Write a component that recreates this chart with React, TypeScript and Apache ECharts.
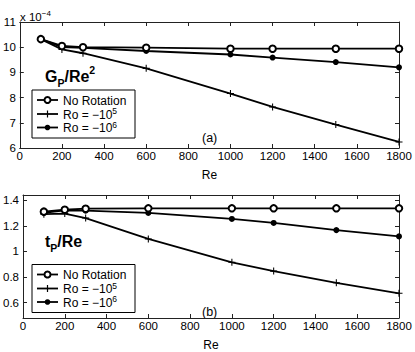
import React, { useEffect, useRef } from "react";
import * as echarts from "echarts";

const reValues = [100, 200, 300, 600, 1000, 1200, 1500, 1800];
const xTicks = [0, 200, 400, 600, 800, 1000, 1200, 1400, 1600, 1800];

// (a) G_P / Re^2, in units of 1e-4
const gNoRotation = [10.32, 10.05, 10.0, 9.98, 9.94, 9.94, 9.94, 9.94];
const gRo5 = [10.32, 9.91, 9.76, 9.16, 8.16, 7.63, 6.93, 6.24];
const gRo6 = [10.32, 10.0, 9.97, 9.85, 9.71, 9.59, 9.41, 9.2];

// (b) t_P / Re
const tNoRotation = [1.31, 1.325, 1.333, 1.336, 1.336, 1.336, 1.336, 1.336];
const tRo5 = [1.29, 1.295, 1.26, 1.097, 0.915, 0.846, 0.755, 0.673];
const tRo6 = [1.3, 1.32, 1.318, 1.3, 1.253, 1.222, 1.166, 1.117];

const topYTicks = [6, 7, 8, 9, 10, 11];
const bottomYTicks = [0.6, 0.8, 1, 1.2, 1.4];

const seriesNames = ["No Rotation", "Ro = −10^5", "Ro = −10^6"];

const FONT = "'Liberation Sans', Arial, Helvetica, sans-serif";
const AXIS_COLOR = "#222";
const PLUS_PATH =
  "path://M-0.15,-1H0.15V-0.15H1V0.15H0.15V1H-0.15V0.15H-1V-0.15H-0.15Z";

const pairs = (ys: number[]) => reValues.map((x, i) => [x, ys[i]]);

function xAxisPair(gridIndex: number) {
  const common = {
    gridIndex,
    type: "value",
    min: 0,
    max: 1800,
    interval: 200,
    splitLine: { show: false },
    axisLine: { show: true, onZero: false, lineStyle: { color: AXIS_COLOR, width: 1 } },
    axisTick: { show: true, inside: true, length: 4, lineStyle: { color: AXIS_COLOR } },
  };
  return [
    {
      ...common,
      position: "bottom",
      name: "Re",
      nameLocation: "middle",
      nameGap: 21,
      nameTextStyle: { color: "#000", fontSize: 12, fontFamily: FONT },
      axisLabel: {
        show: true,
        color: "#000",
        fontSize: 11.5,
        fontFamily: FONT,
        margin: 2,
        customValues: xTicks,
        formatter: (v: number) => String(v),
      },
    },
    { ...common, position: "top", axisLabel: { show: false } },
  ];
}

function yAxisPair(gridIndex: number, min: number, max: number, ticks: number[]) {
  const common = {
    gridIndex,
    type: "value",
    min,
    max,
    splitLine: { show: false },
    axisLine: { show: true, onZero: false, lineStyle: { color: AXIS_COLOR, width: 1 } },
    axisTick: {
      show: true,
      inside: true,
      length: 4,
      lineStyle: { color: AXIS_COLOR },
      customValues: ticks,
    },
  };
  return [
    {
      ...common,
      position: "left",
      axisLabel: {
        show: true,
        color: "#000",
        fontSize: 11.5,
        fontFamily: FONT,
        margin: 4,
        customValues: ticks,
        formatter: (v: number) => String(Math.round(v * 10) / 10),
      },
    },
    { ...common, position: "right", axisLabel: { show: false } },
  ];
}

function seriesFor(xi: number, yi: number, noRot: number[], ro5: number[], ro6: number[]) {
  const line = { color: "#000", width: 1.8 };
  return [
    {
      name: seriesNames[1],
      type: "line",
      xAxisIndex: xi,
      yAxisIndex: yi,
      data: pairs(ro5),
      symbol: PLUS_PATH,
      symbolSize: 7,
      itemStyle: { color: "#000" },
      lineStyle: line,
      z: 2,
    },
    {
      name: seriesNames[2],
      type: "line",
      xAxisIndex: xi,
      yAxisIndex: yi,
      data: pairs(ro6),
      symbol: "circle",
      symbolSize: 6,
      itemStyle: { color: "#000" },
      lineStyle: line,
      z: 3,
    },
    {
      name: seriesNames[0],
      type: "line",
      xAxisIndex: xi,
      yAxisIndex: yi,
      data: pairs(noRot),
      symbol: "circle",
      symbolSize: 6.5,
      itemStyle: { color: "#fff", borderColor: "#000", borderWidth: 2 },
      lineStyle: line,
      z: 4,
    },
  ];
}

function legendGraphics(top: number) {
  const left = 32;
  const rows = [top + 10, top + 24, top + 37.5];
  const x1 = 37;
  const x2 = 58;
  const mx = 47.5;
  const els: any[] = [
    {
      type: "rect",
      shape: { x: left, y: top, width: 103, height: 48 },
      style: { fill: "#fff", stroke: "#000", lineWidth: 1 },
      z: 10,
    },
  ];
  rows.forEach((y, i) => {
    els.push({
      type: "line",
      shape: { x1, y1: y, x2, y2: y },
      style: { stroke: "#000", lineWidth: 1.8 },
      z: 11,
    });
    if (i === 0) {
      els.push({
        type: "circle",
        shape: { cx: mx, cy: y, r: 3 },
        style: { fill: "#fff", stroke: "#000", lineWidth: 2 },
        z: 12,
      });
    } else if (i === 1) {
      els.push({
        type: "line",
        shape: { x1: mx, y1: y - 3.5, x2: mx, y2: y + 3.5 },
        style: { stroke: "#000", lineWidth: 1.2 },
        z: 12,
      });
    } else {
      els.push({
        type: "circle",
        shape: { cx: mx, cy: y, r: 2.8 },
        style: { fill: "#000" },
        z: 12,
      });
    }
    const label =
      i === 0
        ? "{t|No Rotation}"
        : i === 1
        ? "{t|Ro = −10}{s|5}"
        : "{t|Ro = −10}{s|6}";
    els.push({
      type: "text",
      x: 63,
      y: y + 0.5,
      z: 12,
      style: {
        text: label,
        verticalAlign: "middle",
        align: "left",
        fill: "#000",
        rich: {
          t: { fontSize: 12, fontFamily: FONT, lineHeight: 16, fill: "#000" },
          s: { fontSize: 8.5, fontFamily: FONT, lineHeight: 10, verticalAlign: "top", fill: "#000" },
        },
      },
    });
  });
  return els;
}

export default function App() {
  const ref = useRef<HTMLDivElement>(null);

  useEffect(() => {
    document.body.style.margin = "0";
    if (!ref.current) return;
    const chart = echarts.init(ref.current, null, { renderer: "svg" });

    const graphic: any[] = [
      // x 10^-4
      {
        type: "text",
        x: 20,
        y: 9,
        style: {
          text: "{t|x 10}{s|−4}",
          fill: "#000",
          rich: {
            t: { fontSize: 11.5, fontFamily: FONT, lineHeight: 16, fill: "#000" },
            s: { fontSize: 8, fontFamily: FONT, lineHeight: 9, verticalAlign: "top", fill: "#000" },
          },
        },
      },
      // G_P/Re^2
      {
        type: "text",
        x: 45,
        y: 64,
        style: {
          text: "{m|G}{b|P}{m|/Re}{p|2}",
          fill: "#000",
          rich: {
            m: { fontSize: 16, fontWeight: "bold", fontFamily: FONT, lineHeight: 24, fill: "#000" },
            b: { fontSize: 10.5, fontWeight: "bold", fontFamily: FONT, lineHeight: 11, verticalAlign: "bottom", fill: "#000" },
            p: { fontSize: 10.5, fontWeight: "bold", fontFamily: FONT, lineHeight: 11, verticalAlign: "top", fill: "#000" },
          },
        },
      },
      // t_P/Re
      {
        type: "text",
        x: 45,
        y: 229,
        style: {
          text: "{m|t}{b|P}{m|/Re}",
          fill: "#000",
          rich: {
            m: { fontSize: 16, fontWeight: "bold", fontFamily: FONT, lineHeight: 24, fill: "#000" },
            b: { fontSize: 10.5, fontWeight: "bold", fontFamily: FONT, lineHeight: 11, verticalAlign: "bottom", fill: "#000" },
          },
        },
      },
      {
        type: "text",
        x: 202,
        y: 138,
        style: { text: "(a)", fontSize: 12.5, fontFamily: FONT, fill: "#000", verticalAlign: "middle" },
      },
      {
        type: "text",
        x: 202,
        y: 311.5,
        style: { text: "(b)", fontSize: 12.5, fontFamily: FONT, fill: "#000", verticalAlign: "middle" },
      },
      ...legendGraphics(90),
      ...legendGraphics(264.5),
    ];

    chart.setOption({
      animation: false,
      backgroundColor: "#fff",
      grid: [
        { left: 19.5, top: 22, width: 379.5, height: 126, containLabel: false },
        { left: 19.5, top: 195, width: 379.5, height: 126, containLabel: false },
      ],
      xAxis: [...xAxisPair(0), ...xAxisPair(1)],
      yAxis: [...yAxisPair(0, 6, 11, topYTicks), ...yAxisPair(1, 0.48, 1.44, bottomYTicks)],
      series: [
        ...seriesFor(0, 0, gNoRotation, gRo5, gRo6),
        ...seriesFor(2, 2, tNoRotation, tRo5, tRo6),
      ],
      graphic,
    });

    return () => chart.dispose();
  }, []);

  return <div ref={ref} style={{ width: 415, height: 352 }} />;
}
